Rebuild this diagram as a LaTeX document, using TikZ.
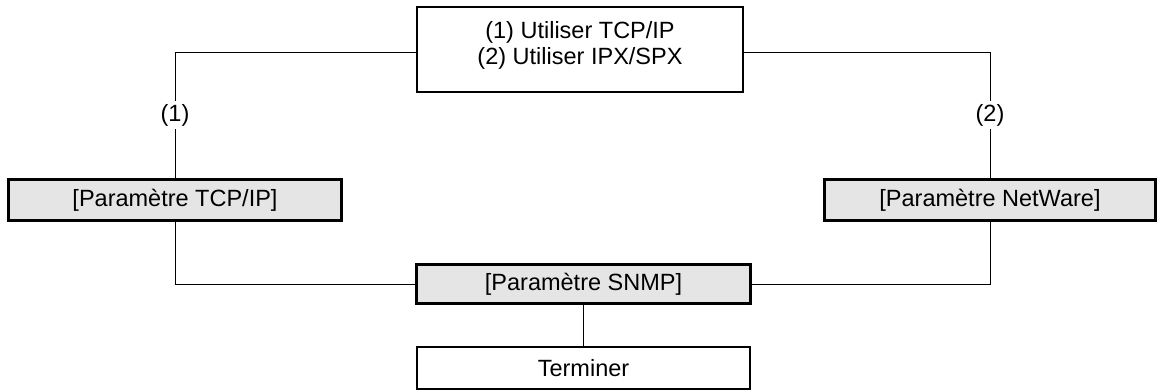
\documentclass[tikz,border=0pt]{standalone}
\usepackage{fontspec}
\setmainfont{Liberation Sans}
\begin{document}
\begin{tikzpicture}[x=1pt,y=1pt,
  every node/.style={font=\fontsize{23.5}{26}\selectfont},
  plainbox/.style={draw=black, line width=1.1pt, fill=white, rectangle, inner sep=0pt},
  shadebox/.style={draw=black, line width=3.2pt, fill=black!10, rectangle, inner sep=0pt},
  conn/.style={draw=black, line width=0.9pt},
  lbl/.style={fill=white, inner sep=3pt}]
\useasboundingbox (0,0) rectangle (1159,-390);
% boxes
\node[plainbox, minimum width=326pt, minimum height=85pt] (top) at (580,-49.5) {};
\node[align=center] (toptext) at (580,-45) {(1) Utiliser TCP/IP\\(2) Utiliser IPX/SPX};
\node[shadebox, minimum width=333pt, minimum height=41pt] (tcp) at (175,-200) {[Paramètre TCP/IP]};
\node[shadebox, minimum width=331pt, minimum height=41pt] (nw) at (990,-200) {[Paramètre NetWare]};
\node[shadebox, minimum width=334pt, minimum height=39pt] (snmp) at (583.5,-284) {[Paramètre SNMP]};
\node[plainbox, minimum width=333pt, minimum height=42pt] (term) at (583.5,-368) {Terminer};
% connectors
\draw[conn] ([yshift=-2.5pt]top.west) -| (tcp.north) node[lbl, pos=0.75] {(1)};
\draw[conn] ([yshift=-2.5pt]top.east) -| (nw.north) node[lbl, pos=0.75] {(2)};
\draw[conn] (tcp.south) |- (snmp.west);
\draw[conn] (nw.south) |- (snmp.east);
\draw[conn] (snmp.south) -- (term.north);
\end{tikzpicture}
\end{document}
